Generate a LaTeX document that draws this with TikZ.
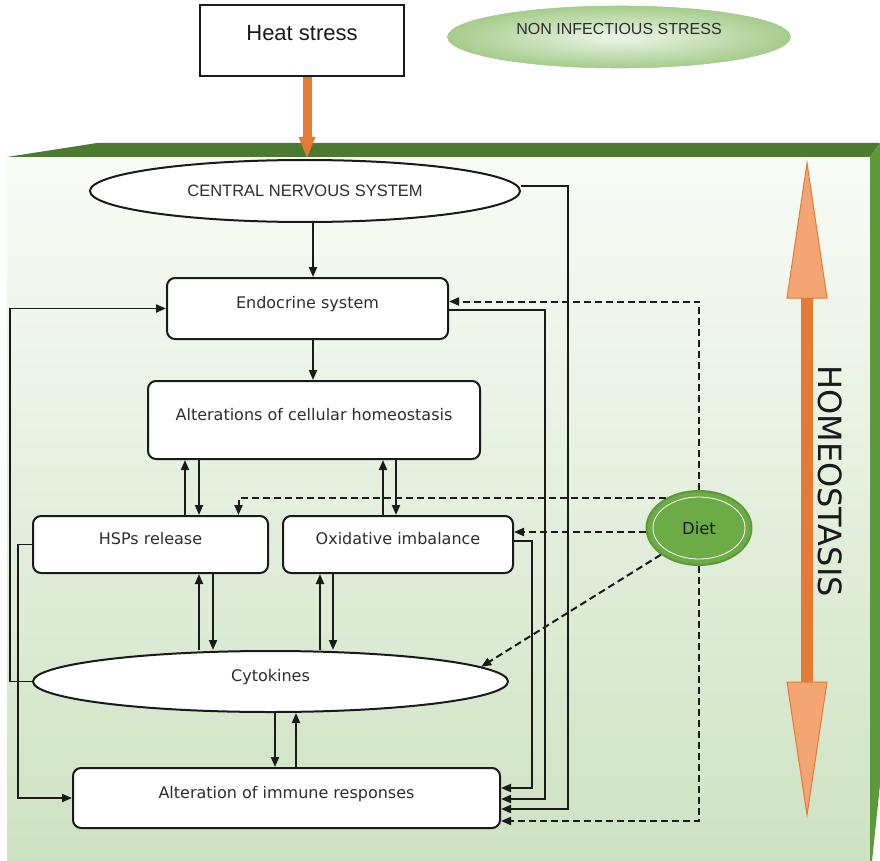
\documentclass[tikz,border=0pt]{standalone}
\usepackage{fontspec}
\setmainfont{DejaVu Sans}
\newfontfamily\arialfont{Liberation Sans}
\usetikzlibrary{arrows.meta,shapes.geometric,calc}

\definecolor{inkc}{HTML}{1A1A1A}
\definecolor{textc}{HTML}{2E2E2E}
\definecolor{bandgreen}{HTML}{4B7A30}
\definecolor{sidegreen}{HTML}{5C9A3C}
\definecolor{faceA}{HTML}{BBD6AB}
\definecolor{faceB}{HTML}{D2E5C7}
\definecolor{faceC}{HTML}{EEF5EA}
\definecolor{orangeD}{HTML}{E37A36}
\definecolor{orangeL}{HTML}{F3A674}
\definecolor{dietgreen}{HTML}{6CAB45}
\definecolor{dietedge}{HTML}{5B9A38}
\definecolor{nisin}{HTML}{EEF6E9}
\definecolor{nisout}{HTML}{A6CC8C}

% front face of the block: light green below, fading to white at the top
\pgfdeclareverticalshading{frontface}{100bp}{color(0bp)=(faceA); color(30bp)=(faceB); color(62bp)=(faceC); color(84bp)=(white); color(100bp)=(white)}

\begin{document}
\begin{tikzpicture}[x=1pt,y=-1pt,
  boxtext/.style={text=textc, font=\fontsize{16}{19}\selectfont, inner sep=0pt, text height=12pt, text depth=12pt},
  box/.style={boxtext, draw=inkc, line width=2pt, rounded corners=8pt, fill=white},
  oval/.style={ellipse, draw=inkc, line width=2pt, fill=white, text=textc, inner sep=0pt},
  arr/.style={draw=inkc, line width=1.9pt, -{Triangle[length=10pt,width=8pt]}},
  darr/.style={draw=inkc, line width=2pt, dash pattern=on 7pt off 4pt, -{Triangle[length=10pt,width=8pt]}},
]
\useasboundingbox (0,0) rectangle (880,861);
\fill[white] (0,0) rectangle (880,861);

% the block: front face, top band, right side
\shade[shading=frontface] (7,157) rectangle (870,861);
\fill[bandgreen] (7,157) -- (97,143) -- (880,143) -- (870,157) -- cycle;
\fill[sidegreen] (870,157) -- (880,143) -- (880,785) -- (872,861) -- (870,861) -- cycle;

% homeostasis double arrow
\fill[orangeD] (801,290) rectangle (813,690);
\filldraw[fill=orangeL, draw=orangeD, line width=1pt] (807,163) -- (827,298) -- (787,298) -- cycle;
\filldraw[fill=orangeL, draw=orangeD, line width=1pt] (807,815) -- (827,682) -- (787,682) -- cycle;
\node[rotate=-90, text=inkc, font=\fontsize{32}{36}\selectfont, inner sep=0pt] (homeo) at (830,481) {HOMEOSTASIS};

% stress sources
\node[draw=inkc, line width=2.4pt, fill=white, minimum width=204pt, minimum height=71pt, inner sep=0pt,
      text=inkc, font=\arialfont\fontsize{22}{26}\selectfont, text height=15pt, text depth=15pt] (heat) at (302,40.5) {Heat stress};
\node[ellipse, minimum width=343pt, minimum height=62pt, inner sep=0pt, draw=nisout, line width=0.6pt,
      inner color=nisin, outer color=nisout, text=textc, font=\arialfont\fontsize{16}{19}\selectfont,
      text height=12pt, text depth=16pt] (nis) at (619,37) {NON INFECTIOUS STRESS};

% main nodes
\node[oval, minimum width=430pt, minimum height=62pt, font=\arialfont\fontsize{16.5}{19}\selectfont] (cns) at (305,191) {CENTRAL NERVOUS SYSTEM};
\node[box, minimum width=281pt, minimum height=61pt] (endo) at (307.5,308.5) {Endocrine system};
\node[box, minimum width=332pt, minimum height=78pt] (alt) at (314,420) {Alterations of cellular homeostasis};
\node[box, minimum width=235pt, minimum height=57pt] (hsp) at (150.5,544.5) {HSPs release};
\node[box, minimum width=230pt, minimum height=57pt] (oxi) at (398,544.5) {Oxidative imbalance};
\node[oval, boxtext, minimum width=475pt, minimum height=61pt] (cyto) at (270.5,681.5) {Cytokines};
\node[box, minimum width=427pt, minimum height=60pt] (imm) at (286.5,798) {Alteration of immune responses};
\node[ellipse, minimum width=105pt, minimum height=74pt, inner sep=0pt, fill=dietgreen, draw=dietedge, line width=2pt,
      text=inkc, font=\fontsize{16.5}{19}\selectfont] (diet) at (699,528) {Diet};
\draw[white, line width=0.8pt] (diet.center) ellipse (46 and 31);

% helper points for the routed lines
\coordinate (lx) at (10,0);
\coordinate (lx2) at (18,0);
\coordinate (rx1) at (532,0);
\coordinate (rx2) at (545,0);
\coordinate (rx3) at (568,0);
\coordinate (in1) at ([yshift=10pt]imm.east);
\coordinate (in2) at ([yshift=-1pt]imm.east);
\coordinate (in3) at ([yshift=-11pt]imm.east);
\coordinate (in4) at ([yshift=-23pt]imm.east);
\coordinate (hspin) at ([xshift=88pt]hsp.north);

% heat stress reaching the nervous system
\draw[draw=orangeD, line width=9pt, -{Triangle[length=22pt,width=15pt,fill=orangeL]}]
  ([xshift=5pt]heat.south) -- ([xshift=5pt]heat.south |- cns.north);

% vertical cascade
\draw[arr] (cns.south -| 313,0) -- (endo.north -| 313,0);
\draw[arr] (endo.south -| 313,0) -- (alt.north -| 313,0);
\draw[arr] (hsp.north -| 185,0) -- (alt.south -| 185,0);
\draw[arr] (alt.south -| 199,0) -- (hsp.north -| 199,0);
\draw[arr] (oxi.north -| 383,0) -- (alt.south -| 383,0);
\draw[arr] (alt.south -| 396,0) -- (oxi.north -| 396,0);
\draw[arr] (cyto.north -| 199,0) -- (hsp.south -| 199,0);
\draw[arr] (hsp.south -| 213,0) -- (cyto.north -| 213,0);
\draw[arr] (cyto.north -| 320,0) -- (oxi.south -| 320,0);
\draw[arr] (oxi.south -| 333,0) -- (cyto.north -| 333,0);
\draw[arr] (cyto.south -| 275,0) -- (imm.north -| 275,0);
\draw[arr] (imm.north -| 296,0) -- (cyto.south -| 296,0);

% feedback loops on the left
\draw[arr] (cyto.west) -| (lx |- endo.west) -- (endo.west);
\draw[arr] (hsp.west) -| (lx2 |- imm.west) -- (imm.west);

% routes into the immune responses on the right
\draw[arr] ([yshift=3.5pt]oxi.east) -| (rx1 |- in1) -- (in1);
\draw[arr] ([yshift=-1.5pt]endo.east) -| (rx2 |- in2) -- (in2);
\draw[arr] ([yshift=5pt]cns.east) -| (rx3 |- in3) -- (in3);

% influence of diet
\draw[darr] (diet.north) |- ([yshift=7pt]endo.east);
\draw[darr] ([yshift=-4pt]diet.west) -- ([yshift=-4pt]oxi.east |- diet.west);
\draw[darr] (diet.138) -| (hspin);
\draw[darr] (diet.215) -- (cyto.4);
\draw[darr] (diet.south) |- (in4);
\end{tikzpicture}
\end{document}
